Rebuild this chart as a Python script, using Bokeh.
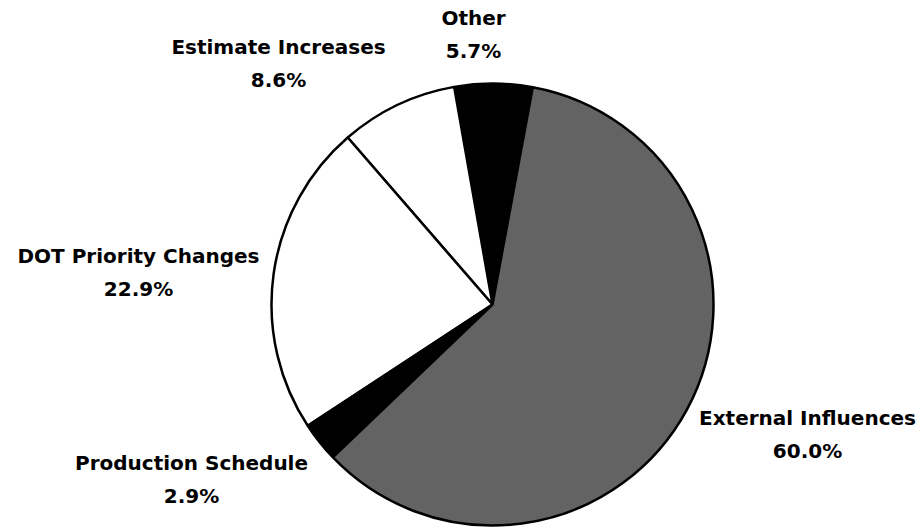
import math
from bokeh.plotting import figure
from bokeh.models import Range1d, ColumnDataSource
from bokeh.core.properties import value
from bokeh.embed import file_html
from bokeh.resources import INLINE

# ---- data ----
categories = ["Other", "Estimate Increases", "DOT Priority Changes",
              "Production Schedule", "External Influences"]
percents = [5.7, 8.6, 22.9, 2.9, 60.0]
colors = ["#000000", "#ffffff", "#ffffff", "#000000", "#636363"]

# ---- layout (pixels, y measured from the top) ----
W, H = 921, 528
CX, CY, R = 492, 304, 221
START_DEG = 79.5
label_px = [(473, 17), (278, 46), (138, 255), (191, 462), (807, 417)]
LINE_GAP = 33

total = sum(percents)
starts, ends = [], []
a = math.radians(START_DEG)
for v in percents:
    span = 2 * math.pi * v / total
    starts.append(a)
    ends.append(a + span)
    a += span

src = ColumnDataSource(dict(
    x=[CX] * len(categories), y=[H - CY] * len(categories),
    start=starts, end=ends, color=colors, cat=categories))

p = figure(width=W, height=H, x_range=Range1d(0, W), y_range=Range1d(0, H),
           output_backend="svg", toolbar_location=None, min_border=0,
           background_fill_color="white", border_fill_color="white")
p.axis.visible = False
p.grid.visible = False
p.outline_line_color = None

p.wedge(x="x", y="y", radius=R, start_angle="start", end_angle="end",
        fill_color="color", line_color="black", line_width=2.5, source=src)

lab = ColumnDataSource(dict(
    x=[lx for lx, ly in label_px],
    y1=[H - ly for lx, ly in label_px],
    y2=[H - ly - LINE_GAP for lx, ly in label_px],
    name=categories,
    pct=[f"{v:.1f}%" for v in percents]))

for col, ycol in (("name", "y1"), ("pct", "y2")):
    p.text(x="x", y=ycol, text=col, source=lab, text_align="center",
           text_baseline="middle", text_font=value("DejaVu Sans"),
           text_font_style="bold", text_font_size="20px", text_color="black")

open("out.html", "w").write(file_html(p, INLINE))
